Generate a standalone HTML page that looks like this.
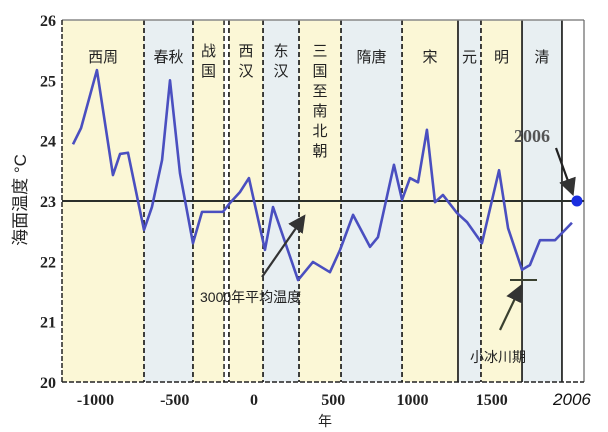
<!DOCTYPE html>
<html><head><meta charset="utf-8"><style>
body{margin:0;background:#fff;width:608px;height:432px;overflow:hidden}
svg{display:block}
text{font-family:"Liberation Sans","Noto Sans CJK SC",sans-serif}
</style></head><body>
<svg id="c" width="608" height="432"></svg>
<script>
const years=[-1142,-1091,-991,-890,-845,-795,-694,-644,-580,-530,-467,-385,-328,-196,-151,-88,-32,69,120,278,372,479,543,625,732,782,883,934,984,1035,1091,1142,1192,1281,1344,1438,1546,1603,1691,1741,1804,1899,2006];
const temps=[23.94,24.21,25.17,23.43,23.78,23.80,22.52,22.90,23.68,25.0,23.46,22.30,22.82,22.82,22.97,23.15,23.38,22.19,22.90,21.69,21.99,21.82,22.19,22.77,22.24,22.40,23.60,23.02,23.38,23.31,24.18,22.98,23.10,22.80,22.65,22.30,23.51,22.55,21.86,21.94,22.35,22.35,22.64];
const eraNames=["西周","春秋","战国","西汉","东汉","三国至南北朝","隋唐","宋","元","明","清",""];
const eraStart=[-1210,-694,-385,-158,57,284,549,934,1287,1432,1691,1943];
const eraEnd=[-694,-385,-189,57,284,549,934,1287,1432,1691,1943,2082];
const eraFill=["y","b","y","y","b","y","b","y","b","y","b","w"];
const eraVertical=[false,false,true,true,true,true,false,false,false,false,false,false];
const eraDashed=[true,true,true,true,true,true,true,true,false,true,false,false];
const yTicks=[20,21,22,23,24,25,26];
const xTicks=[-1000,-500,0,500,1000,1500];
const meanTemp=23, point2006=23;

const X=y=>254+(y)*0.1585;
const Y=t=>382-(t-20)*60.33;
const svg=document.getElementById('c');
const NS='http://www.w3.org/2000/svg';
function el(tag,attrs,parent){const e=document.createElementNS(NS,tag);for(const k in attrs)e.setAttribute(k,attrs[k]);(parent||svg).appendChild(e);return e;}
const fills={y:"#fbf7d6",b:"#e8eff2",w:"#ffffff"};
// eras
eraNames.forEach((n,i)=>{
  const x0=X(eraStart[i]),x1=X(eraEnd[i]);
  const r=el('rect',{x:x0,y:Y(26),width:x1-x0,height:Y(20)-Y(26),fill:fills[eraFill[i]]});
  
  
  if(i>0){
    const l=el('line',{x1:x0,x2:x0,y1:Y(26),y2:Y(20),stroke:"#111","stroke-width":1.6,"stroke-dasharray":eraDashed[i]?"5,3":"none"});
    
    
  }
  if(n){
    const cx=(x0+x1)/2;
    if(eraVertical[i]){
      const chars=[...n];
      chars.forEach((c,j)=>{
        const t=el('text',{x:cx,y:56+j*20,"font-size":15,"text-anchor":"middle",fill:"#222"});t.textContent=c;
        
        
      });
    } else {
      const t=el('text',{x:cx,y:62,"font-size":15,"text-anchor":"middle",fill:"#222"});t.textContent=n;
      
      
    }
  }
});
// double line at western han start
el('line',{x1:X(-189),x2:X(-189),y1:Y(26),y2:Y(20),stroke:"#111","stroke-width":1.4,"stroke-dasharray":"5,3"});
// frame
el('line',{x1:62,x2:584,y1:Y(26),y2:Y(26),stroke:"#888","stroke-width":1.5});
el('line',{x1:584,x2:584,y1:Y(26),y2:Y(20),stroke:"#666","stroke-width":1.2});
el('line',{x1:62,x2:62,y1:Y(26),y2:Y(20),stroke:"#222","stroke-width":1.5,"stroke-dasharray":"5,2"});
el('line',{x1:62,x2:584,y1:Y(20),y2:Y(20),stroke:"#222","stroke-width":1.5,"stroke-dasharray":"5,2"});
// mean line
const ml=el('line',{x1:62,x2:584,y1:Y(meanTemp),y2:Y(meanTemp),stroke:"#2b2f2b","stroke-width":2});


// ticks
yTicks.forEach(v=>{
  const t=el('text',{x:56,y:Y(v)+6,"font-size":16,"font-weight":"bold","text-anchor":"end",fill:"#222",style:"font-family:'Liberation Serif',serif"});t.textContent=v;
  
  
});
xTicks.forEach(v=>{
  const t=el('text',{x:X(v),y:405,"font-size":16,"font-weight":"bold","text-anchor":"middle",fill:"#222",style:"font-family:'Liberation Serif',serif"});t.textContent=v;
  
  
});
const t06=el('text',{x:X(2006),y:405,"font-size":17,"text-anchor":"middle",fill:"#111","font-style":"italic"});t06.textContent="2006";


const xt=el('text',{x:325,y:426,"font-size":14,"text-anchor":"middle",fill:"#222"});xt.textContent="年";


const yt=el('text',{x:0,y:0,"font-size":17,"text-anchor":"middle",fill:"#222",transform:"translate(26,200) rotate(-90)"});yt.textContent="海面温度 °C";


// series
const pl=el('polyline',{points:years.map((y,i)=>X(y)+','+Y(temps[i])).join(' '),fill:"none",stroke:"#4a4fc0","stroke-width":2.6,"stroke-linejoin":"round"});


const dot=el('circle',{cx:X(2006)+5,cy:Y(point2006),r:5.5,fill:"#1a2ee0"});


// annotations
el('defs',{}).innerHTML='<marker id="ah" markerWidth="8" markerHeight="8" refX="6" refY="4" orient="auto"><path d="M0,0 L8,4 L0,8 z" fill="#333"/></marker>';
const a1=el('line',{x1:262,y1:277,x2:303,y2:218,stroke:"#333","stroke-width":2.2,"marker-end":"url(#ah)"});


const at1=el('text',{x:200,y:302,"font-size":14,fill:"#222"});at1.textContent="3000年平均温度";


el('line',{x1:510,x2:537,y1:280,y2:280,stroke:"#3a4030","stroke-width":2});
const a2=el('line',{x1:500,y1:330,x2:520,y2:288,stroke:"#3a4030","stroke-width":2.2,"marker-end":"url(#ah)"});


const at2=el('text',{x:470,y:362,"font-size":14,fill:"#222"});at2.textContent="小冰川期";


const at3=el('text',{x:514,y:142,"font-size":18,"font-weight":"bold",fill:"#555",style:"font-family:'Liberation Serif',serif"});at3.textContent="2006";


const a3=el('line',{x1:556,y1:148,x2:572,y2:192,stroke:"#222","stroke-width":2.2,"marker-end":"url(#ah)"});


</script>
</body></html>
